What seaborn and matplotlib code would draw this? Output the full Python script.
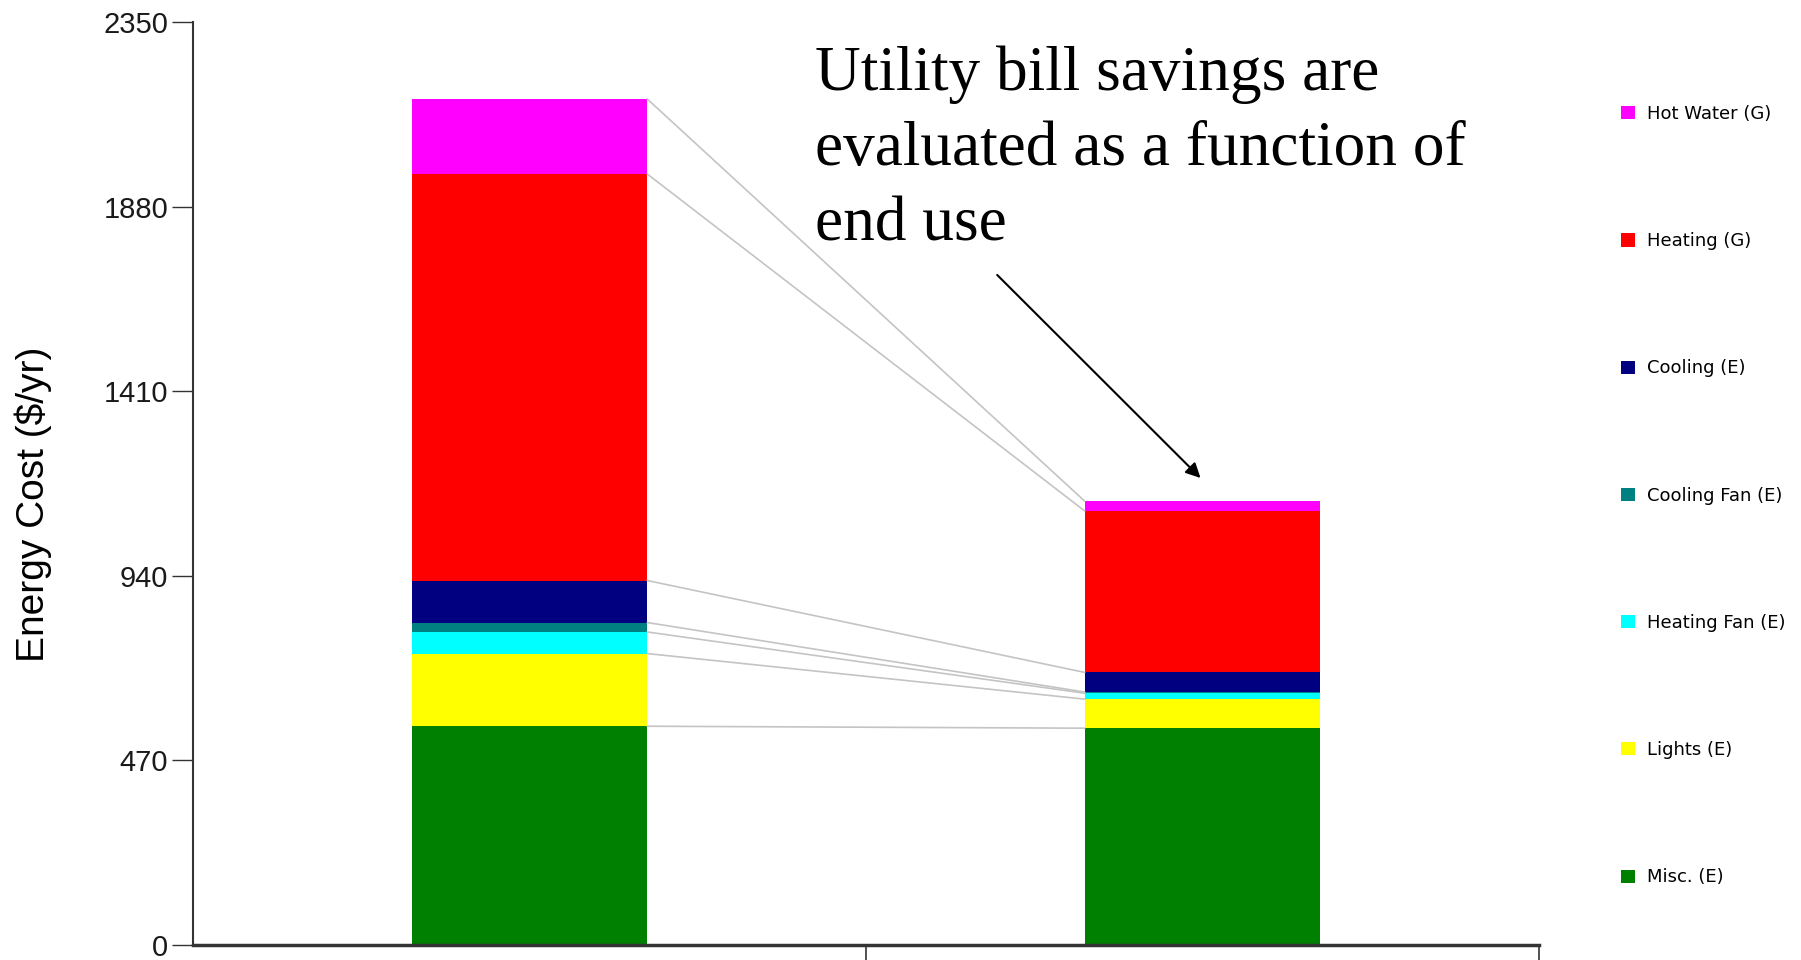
import numpy as np
import pandas as pd
import matplotlib
matplotlib.use("Agg")
import matplotlib.pyplot as plt
from matplotlib.patches import Patch
import seaborn as sns

# end uses, bottom of the stack first
end_uses = ["Misc. (E)", "Lights (E)", "Heating Fan (E)", "Cooling Fan (E)",
            "Cooling (E)", "Heating (G)", "Hot Water (G)"]
colors = ["#008000", "#FFFF00", "#00FFFF", "#008080", "#000080", "#FF0000", "#FF00FF"]

cases = ["Base", "Upgrade"]
base_cost = [557, 185, 55, 24, 107, 1035, 191]
upgrade_cost = [552, 74, 15, 3, 50, 411, 25]

y_ticks = [0, 470, 940, 1410, 1880, 2350]
note = "Utility bill savings are\nevaluated as a function of\nend use"

sns.set_theme(style="white")
plt.rcParams["font.family"] = ["Liberation Sans", "DejaVu Sans"]
plt.rcParams["text.color"] = "black"
plt.rcParams["axes.labelcolor"] = "black"
plt.rcParams["ytick.labelcolor"] = "#1a1a1a"

rows = []
for case, vals in zip(cases, [base_cost, upgrade_cost]):
    for use, v in zip(end_uses, vals):
        rows.append({"case": case, "end_use": use, "cost": v})
df = pd.DataFrame(rows)
df["end_use"] = pd.Categorical(df["end_use"], categories=end_uses, ordered=True)
df = df.sort_values(["case", "end_use"])
df["top"] = df.groupby("case")["cost"].cumsum()

fig = plt.figure(figsize=(18.01, 9.6), dpi=100)
ax = fig.add_axes([193 / 1801, 15 / 960, 1346 / 1801, 923 / 960])

# stacked bars: draw the cumulative tops from the top layer down
bar_w = 0.35
for use, col in reversed(list(zip(end_uses, colors))):
    sub = df[df["end_use"] == use]
    sns.barplot(data=sub, x="case", y="top", order=cases, color=col,
                width=bar_w, saturation=1, linewidth=0, ax=ax)

# grey connectors between the layer tops of the two bars
tops = df.pivot(index="end_use", columns="case", values="top")
for use in end_uses:
    ax.plot([0 + bar_w / 2, 1 - bar_w / 2], [tops.loc[use, cases[0]], tops.loc[use, cases[1]]],
            color="#c4c4c4", lw=1.2, zorder=1)

ax.set_xlim(-0.5, 1.5)
ax.set_ylim(0, 2350)
ax.set_yticks(y_ticks)
ax.set_yticklabels([str(t) for t in y_ticks], fontsize=21)
ax.set_xticks([0.5, 1.5])
ax.set_xticklabels(["", ""])
ax.set_xlabel("")
ax.tick_params(axis="y", direction="out", length=15, width=1, color="#333333", pad=3, left=True)
ax.tick_params(axis="x", direction="out", length=11, width=1.2, color="#333333", bottom=True)
for s in ["top", "right"]:
    ax.spines[s].set_visible(False)
ax.spines["left"].set_color("#333333")
ax.spines["left"].set_linewidth(1.5)
ax.spines["bottom"].set_color("#333333")
ax.spines["bottom"].set_linewidth(2.5)

ax.set_ylabel("Energy Cost ($/yr)", fontsize=28, va="center")
ax.yaxis.set_label_coords(-0.119, 0.477)

# annotation
fig.text(815 / 1801, 1 - 45 / 960, note, family=["Liberation Serif", "DejaVu Serif"],
         fontsize=45.5, color="black", ha="left", va="top", linespacing=1.4)
ax.annotate("", xy=(1.0, 1184), xytext=(0.692, 1711),
            arrowprops=dict(arrowstyle="-|>", color="black", lw=1.5, mutation_scale=22))

# legend, top layer first
handles = [Patch(facecolor=c, edgecolor="none") for c in reversed(colors)]
fig.legend(handles, list(reversed(end_uses)), loc="upper left",
           bbox_to_anchor=(1621 / 1801, 1 - 105 / 960), frameon=False,
           prop={"family": "DejaVu Sans", "size": 13}, handlelength=0.75, handleheight=0.75,
           handletextpad=0.7, labelspacing=6.05, borderpad=0, borderaxespad=0)

fig.savefig("out.png", dpi=100, facecolor="white")
